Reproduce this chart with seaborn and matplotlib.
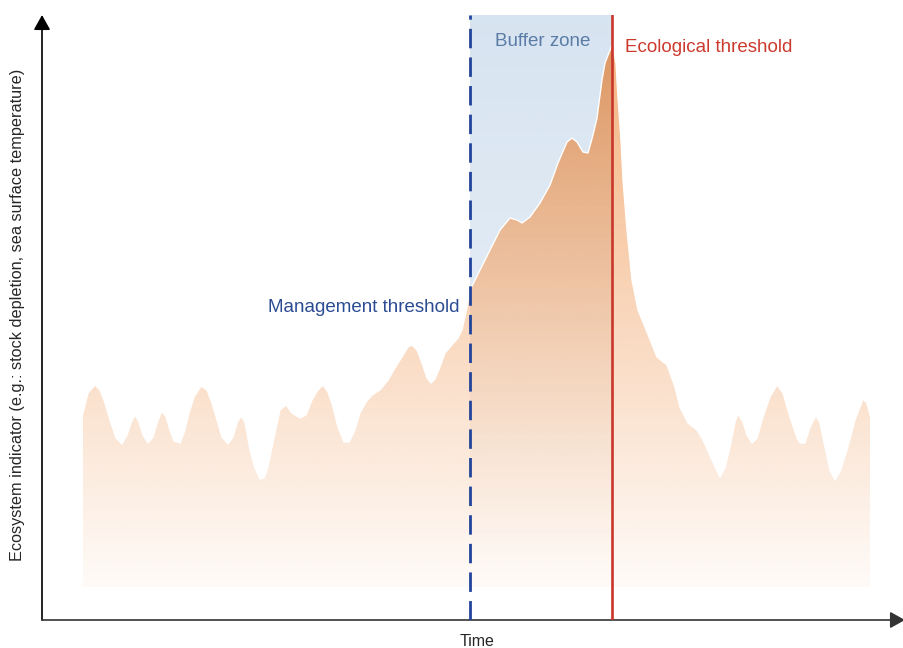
import numpy as np
import pandas as pd
import matplotlib
matplotlib.use("Agg")
import matplotlib.pyplot as plt
import seaborn as sns
from matplotlib.colors import to_rgb

# Curve (time units / indicator units, arbitrary scale)
time = [41, 46, 53, 58, 63, 68, 74, 80, 85, 89, 93, 97, 101, 106, 111, 115, 120, 124,
        128, 132, 138, 142, 147, 152, 159, 165, 170, 175, 180, 186, 191, 195, 199, 203,
        208, 213, 218, 222, 226, 230, 233, 238, 244, 250, 258, 264, 270, 276, 281, 286,
        291, 296, 302, 307, 313, 318, 324, 330, 338, 346, 353, 360, 366, 370, 375, 380,
        385, 389, 393, 398, 403, 410, 416, 420, 424, 428, 438, 448, 458, 468, 475, 480,
        488, 498, 508, 516, 525, 530, 535, 541, 546, 551, 555, 560, 563, 568, 570, 574,
        576, 579, 581, 585, 590, 596, 603, 615, 625, 633, 638, 646, 655, 661, 670, 678,
        683, 688, 693, 696, 701, 705, 710, 715, 721, 728, 735, 741, 748, 755, 758, 763,
        768, 774, 778, 783, 788, 793, 798, 805, 813, 821, 825, 828]
indicator = [207, 227, 235, 230, 217, 200, 182, 176, 185, 197, 205, 198, 185, 177, 183,
             197, 209, 203, 190, 179, 177, 187, 207, 223, 234, 230, 217, 200, 183, 176,
             183, 197, 204, 198, 170, 152, 141, 142, 153, 173, 187, 210, 215, 207, 202,
             205, 220, 230, 235, 228, 213, 193, 178, 178, 190, 207, 218, 225, 230, 240,
             252, 263, 273, 275, 270, 257, 242, 237, 241, 253, 267, 275, 282, 290, 308,
             330, 350, 370, 390, 402, 400, 397, 403, 417, 435, 457, 478, 482, 478, 468,
             467, 485, 502, 540, 557, 570, 575, 557, 523, 480, 440, 390, 340, 310, 293,
             263, 255, 233, 213, 197, 190, 180, 160, 143, 152, 173, 198, 206, 198, 185,
             177, 182, 203, 223, 235, 227, 203, 182, 177, 177, 193, 204, 197, 173, 150,
             140, 148, 170, 200, 221, 217, 205]

management_t = 428
ecological_t = 570
baseline = 33
top = 605

df = pd.DataFrame({"time": time, "indicator": indicator})

sns.set_style("white")
plt.rcParams["font.family"] = ["Liberation Sans", "DejaVu Sans"]

fig = plt.figure(figsize=(9.04, 6.48), dpi=100)
ax = fig.add_axes([42 / 904, 28 / 648, 863 / 904, 605 / 648])

# polygons below / above the curve, used as clip paths for the gradients
below = ax.fill_between(df["time"], baseline, df["indicator"], color="none", lw=0)
above = ax.fill_between(df["time"], df["indicator"], top, color="none", lw=0)
clip_below = below.get_paths()[0]
clip_above = above.get_paths()[0]

vv = np.linspace(baseline, top, 600)
frac = (vv - baseline) / (top - baseline)

# buffer zone (light blue above the curve)
blue = np.zeros((600, 1, 4))
blue[..., :3] = to_rgb("#6496c8")
blue[..., 3] = np.clip(0.12 + 0.14 * frac, 0, 1)[:, None]
im0 = ax.imshow(blue, extent=[management_t, ecological_t, baseline, top], origin="lower",
                aspect="auto", interpolation="bilinear", zorder=1)
im0.set_clip_path(clip_above, ax.transData)

# orange gradient fill
orange = np.zeros((600, 1, 4))
orange[..., :3] = to_rgb("#f09650")
orange[..., 3] = np.clip(0.04 + 0.68 * (vv - baseline) / (575 - baseline), 0, 1)[:, None]
im = ax.imshow(orange, extent=[time[0], time[-1], baseline, top], origin="lower",
               aspect="auto", interpolation="bilinear", zorder=2)
im.set_clip_path(clip_below, ax.transData)

# the fill looks darker inside the buffer zone
dark = np.zeros((600, 1, 4))
dark[..., :3] = to_rgb("#9a4a14")
dark[..., 3] = np.clip(0.28 * frac ** 1.5, 0, 1)[:, None]
im2 = ax.imshow(dark, extent=[management_t, ecological_t, baseline, top], origin="lower",
                aspect="auto", interpolation="bilinear", zorder=3)
im2.set_clip_path(clip_below, ax.transData)

# white outline of the curve
sns.lineplot(data=df, x="time", y="indicator", color="white", lw=1.0, ax=ax, zorder=4)

# thresholds
ax.axvline(management_t, color="#22449a", lw=2.0, dashes=(7, 3.3), zorder=5)
ax.axvline(ecological_t, color="#c9372c", lw=1.9, zorder=5)

ax.set_xlim(0, 863)
ax.set_ylim(0, 605)
ax.axis("off")

# axes with arrows
ax.annotate("", xy=(0, 605), xytext=(0, 0),
            arrowprops=dict(arrowstyle="-|>,head_length=0.9,head_width=0.5", color="black",
                            lw=1.2, shrinkA=0, shrinkB=0), annotation_clip=False)
ax.annotate("", xy=(863, 0), xytext=(0, 0),
            arrowprops=dict(arrowstyle="-|>,head_length=0.9,head_width=0.5", color="#333333",
                            lw=1.2, shrinkA=0, shrinkB=0), annotation_clip=False)

ax.text(501, 579, "Buffer zone", color="#5a7ca6", fontsize=13.5, ha="center", va="center")
ax.text(583, 573, "Ecological threshold", color="#cc3a2e", fontsize=13.5, ha="left", va="center")
ax.text(418, 313, "Management threshold", color="#2b4c93", fontsize=13.5, ha="right", va="center")

fig.text(477 / 904, 1 - 642 / 648, "Time", fontsize=11.5, ha="center", va="center")
fig.text(18 / 904, 1 - 315 / 648, "Ecosystem indicator (e.g.: stock depletion, sea surface temperature)",
         fontsize=11.7, rotation=90, ha="center", va="center")

fig.savefig("out.png", dpi=100)
